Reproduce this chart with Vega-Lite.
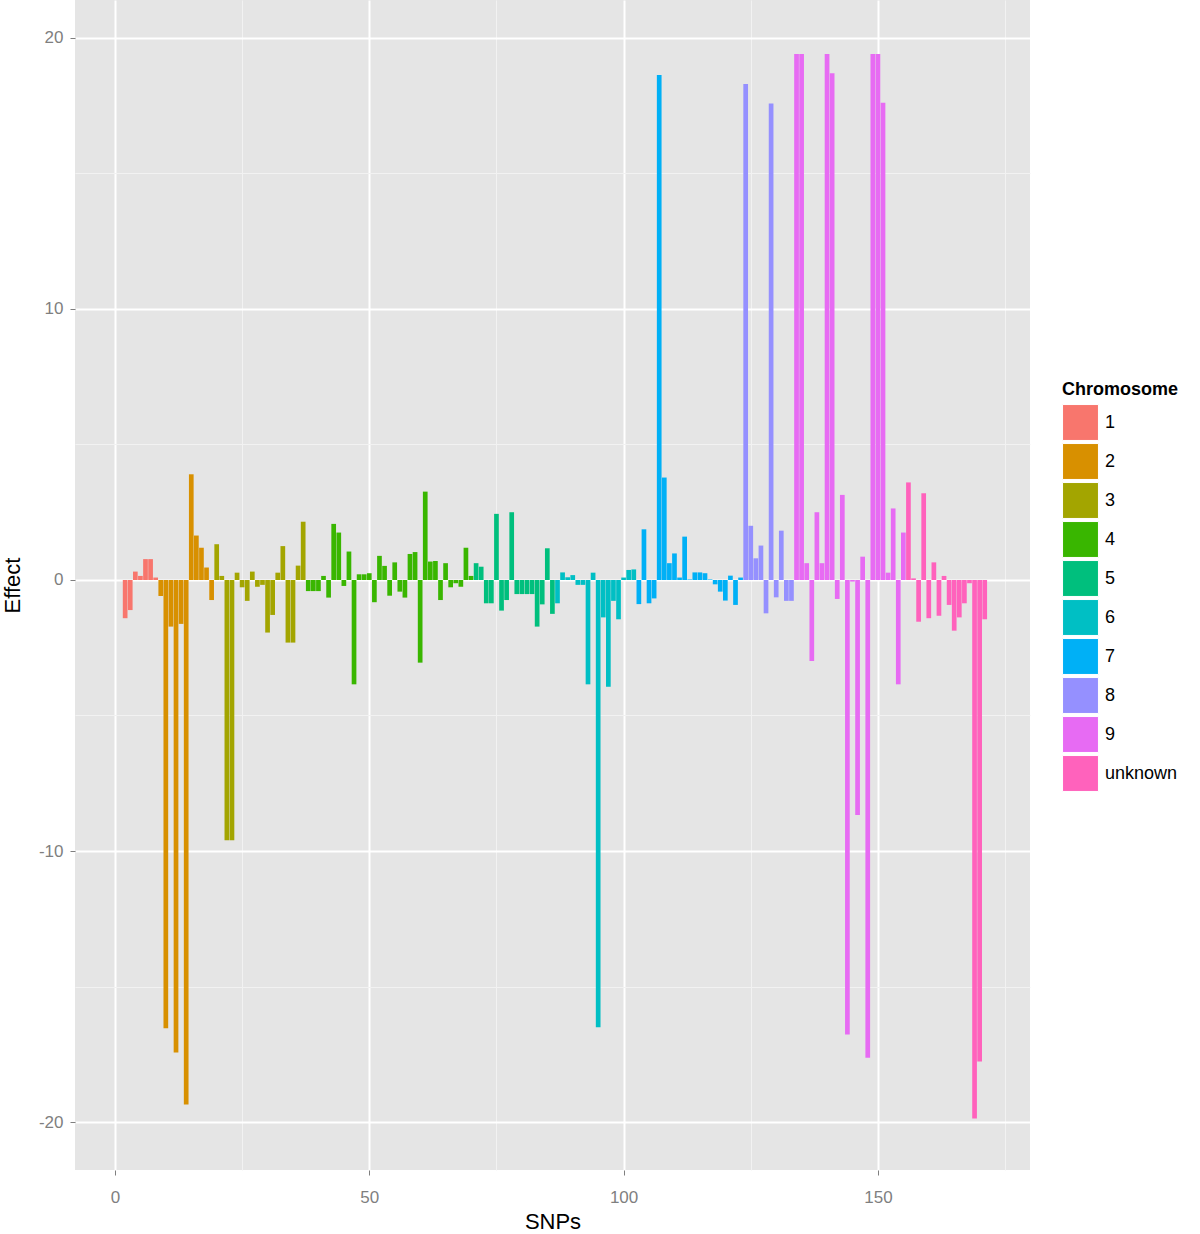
{
  "$schema": "https://vega.github.io/schema/vega-lite/v6.json",
  "autosize": {"type": "none"},
  "padding": {"left": 75, "top": 0, "right": 170, "bottom": 64},
  "width": 955,
  "height": 1170,
  "background": "white",
  "config": {
    "font": "Liberation Sans",
    "view": {"fill": "#E5E5E5", "stroke": null}
  },
  "data": {
    "values": [
      {"SNP": 1, "Effect": 0, "Chromosome": "1"},
      {"SNP": 2, "Effect": -1.41, "Chromosome": "1"},
      {"SNP": 3, "Effect": -1.11, "Chromosome": "1"},
      {"SNP": 4, "Effect": 0.31, "Chromosome": "1"},
      {"SNP": 5, "Effect": 0.15, "Chromosome": "1"},
      {"SNP": 6, "Effect": 0.77, "Chromosome": "1"},
      {"SNP": 7, "Effect": 0.77, "Chromosome": "1"},
      {"SNP": 8, "Effect": 0.09, "Chromosome": "1"},
      {"SNP": 9, "Effect": -0.59, "Chromosome": "2"},
      {"SNP": 10, "Effect": -16.54, "Chromosome": "2"},
      {"SNP": 11, "Effect": -1.72, "Chromosome": "2"},
      {"SNP": 12, "Effect": -17.43, "Chromosome": "2"},
      {"SNP": 13, "Effect": -1.62, "Chromosome": "2"},
      {"SNP": 14, "Effect": -19.35, "Chromosome": "2"},
      {"SNP": 15, "Effect": 3.9, "Chromosome": "2"},
      {"SNP": 16, "Effect": 1.64, "Chromosome": "2"},
      {"SNP": 17, "Effect": 1.19, "Chromosome": "2"},
      {"SNP": 18, "Effect": 0.46, "Chromosome": "2"},
      {"SNP": 19, "Effect": -0.74, "Chromosome": "2"},
      {"SNP": 20, "Effect": 1.32, "Chromosome": "3"},
      {"SNP": 21, "Effect": 0.15, "Chromosome": "3"},
      {"SNP": 22, "Effect": -9.6, "Chromosome": "3"},
      {"SNP": 23, "Effect": -9.6, "Chromosome": "3"},
      {"SNP": 24, "Effect": 0.27, "Chromosome": "3"},
      {"SNP": 25, "Effect": -0.27, "Chromosome": "3"},
      {"SNP": 26, "Effect": -0.77, "Chromosome": "3"},
      {"SNP": 27, "Effect": 0.31, "Chromosome": "3"},
      {"SNP": 28, "Effect": -0.25, "Chromosome": "3"},
      {"SNP": 29, "Effect": -0.18, "Chromosome": "3"},
      {"SNP": 30, "Effect": -1.94, "Chromosome": "3"},
      {"SNP": 31, "Effect": -1.29, "Chromosome": "3"},
      {"SNP": 32, "Effect": 0.27, "Chromosome": "3"},
      {"SNP": 33, "Effect": 1.25, "Chromosome": "3"},
      {"SNP": 34, "Effect": -2.31, "Chromosome": "3"},
      {"SNP": 35, "Effect": -2.31, "Chromosome": "3"},
      {"SNP": 36, "Effect": 0.53, "Chromosome": "3"},
      {"SNP": 37, "Effect": 2.15, "Chromosome": "3"},
      {"SNP": 38, "Effect": -0.41, "Chromosome": "4"},
      {"SNP": 39, "Effect": -0.41, "Chromosome": "4"},
      {"SNP": 40, "Effect": -0.41, "Chromosome": "4"},
      {"SNP": 41, "Effect": 0.15, "Chromosome": "4"},
      {"SNP": 42, "Effect": -0.65, "Chromosome": "4"},
      {"SNP": 43, "Effect": 2.07, "Chromosome": "4"},
      {"SNP": 44, "Effect": 1.75, "Chromosome": "4"},
      {"SNP": 45, "Effect": -0.22, "Chromosome": "4"},
      {"SNP": 46, "Effect": 1.05, "Chromosome": "4"},
      {"SNP": 47, "Effect": -3.85, "Chromosome": "4"},
      {"SNP": 48, "Effect": 0.21, "Chromosome": "4"},
      {"SNP": 49, "Effect": 0.21, "Chromosome": "4"},
      {"SNP": 50, "Effect": 0.25, "Chromosome": "4"},
      {"SNP": 51, "Effect": -0.82, "Chromosome": "4"},
      {"SNP": 52, "Effect": 0.89, "Chromosome": "4"},
      {"SNP": 53, "Effect": 0.52, "Chromosome": "4"},
      {"SNP": 54, "Effect": -0.58, "Chromosome": "4"},
      {"SNP": 55, "Effect": 0.65, "Chromosome": "4"},
      {"SNP": 56, "Effect": -0.43, "Chromosome": "4"},
      {"SNP": 57, "Effect": -0.65, "Chromosome": "4"},
      {"SNP": 58, "Effect": 0.96, "Chromosome": "4"},
      {"SNP": 59, "Effect": 1.03, "Chromosome": "4"},
      {"SNP": 60, "Effect": -3.05, "Chromosome": "4"},
      {"SNP": 61, "Effect": 3.26, "Chromosome": "4"},
      {"SNP": 62, "Effect": 0.68, "Chromosome": "4"},
      {"SNP": 63, "Effect": 0.7, "Chromosome": "4"},
      {"SNP": 64, "Effect": -0.74, "Chromosome": "4"},
      {"SNP": 65, "Effect": 0.62, "Chromosome": "4"},
      {"SNP": 66, "Effect": -0.27, "Chromosome": "4"},
      {"SNP": 67, "Effect": -0.12, "Chromosome": "4"},
      {"SNP": 68, "Effect": -0.25, "Chromosome": "4"},
      {"SNP": 69, "Effect": 1.19, "Chromosome": "4"},
      {"SNP": 70, "Effect": 0.15, "Chromosome": "4"},
      {"SNP": 71, "Effect": 0.62, "Chromosome": "5"},
      {"SNP": 72, "Effect": 0.49, "Chromosome": "5"},
      {"SNP": 73, "Effect": -0.86, "Chromosome": "5"},
      {"SNP": 74, "Effect": -0.86, "Chromosome": "5"},
      {"SNP": 75, "Effect": 2.44, "Chromosome": "5"},
      {"SNP": 76, "Effect": -1.13, "Chromosome": "5"},
      {"SNP": 77, "Effect": -0.74, "Chromosome": "5"},
      {"SNP": 78, "Effect": 2.5, "Chromosome": "5"},
      {"SNP": 79, "Effect": -0.52, "Chromosome": "5"},
      {"SNP": 80, "Effect": -0.52, "Chromosome": "5"},
      {"SNP": 81, "Effect": -0.52, "Chromosome": "5"},
      {"SNP": 82, "Effect": -0.52, "Chromosome": "5"},
      {"SNP": 83, "Effect": -1.72, "Chromosome": "5"},
      {"SNP": 84, "Effect": -0.9, "Chromosome": "5"},
      {"SNP": 85, "Effect": 1.17, "Chromosome": "5"},
      {"SNP": 86, "Effect": -1.25, "Chromosome": "5"},
      {"SNP": 87, "Effect": -0.86, "Chromosome": "6"},
      {"SNP": 88, "Effect": 0.28, "Chromosome": "6"},
      {"SNP": 89, "Effect": 0.1, "Chromosome": "6"},
      {"SNP": 90, "Effect": 0.18, "Chromosome": "6"},
      {"SNP": 91, "Effect": -0.18, "Chromosome": "6"},
      {"SNP": 92, "Effect": -0.18, "Chromosome": "6"},
      {"SNP": 93, "Effect": -3.85, "Chromosome": "6"},
      {"SNP": 94, "Effect": 0.27, "Chromosome": "6"},
      {"SNP": 95, "Effect": -16.5, "Chromosome": "6"},
      {"SNP": 96, "Effect": -1.38, "Chromosome": "6"},
      {"SNP": 97, "Effect": -3.94, "Chromosome": "6"},
      {"SNP": 98, "Effect": -0.77, "Chromosome": "6"},
      {"SNP": 99, "Effect": -1.45, "Chromosome": "6"},
      {"SNP": 100, "Effect": 0.09, "Chromosome": "6"},
      {"SNP": 101, "Effect": 0.37, "Chromosome": "6"},
      {"SNP": 102, "Effect": 0.39, "Chromosome": "6"},
      {"SNP": 103, "Effect": -0.89, "Chromosome": "7"},
      {"SNP": 104, "Effect": 1.87, "Chromosome": "7"},
      {"SNP": 105, "Effect": -0.86, "Chromosome": "7"},
      {"SNP": 106, "Effect": -0.68, "Chromosome": "7"},
      {"SNP": 107, "Effect": 18.63, "Chromosome": "7"},
      {"SNP": 108, "Effect": 3.78, "Chromosome": "7"},
      {"SNP": 109, "Effect": 0.62, "Chromosome": "7"},
      {"SNP": 110, "Effect": 0.98, "Chromosome": "7"},
      {"SNP": 111, "Effect": 0.09, "Chromosome": "7"},
      {"SNP": 112, "Effect": 1.6, "Chromosome": "7"},
      {"SNP": 113, "Effect": 0.02, "Chromosome": "7"},
      {"SNP": 114, "Effect": 0.28, "Chromosome": "7"},
      {"SNP": 115, "Effect": 0.28, "Chromosome": "7"},
      {"SNP": 116, "Effect": 0.25, "Chromosome": "7"},
      {"SNP": 117, "Effect": 0.02, "Chromosome": "7"},
      {"SNP": 118, "Effect": -0.16, "Chromosome": "7"},
      {"SNP": 119, "Effect": -0.43, "Chromosome": "7"},
      {"SNP": 120, "Effect": -0.76, "Chromosome": "7"},
      {"SNP": 121, "Effect": 0.16, "Chromosome": "7"},
      {"SNP": 122, "Effect": -0.92, "Chromosome": "7"},
      {"SNP": 123, "Effect": 0.09, "Chromosome": "7"},
      {"SNP": 124, "Effect": 18.3, "Chromosome": "8"},
      {"SNP": 125, "Effect": 2.0, "Chromosome": "8"},
      {"SNP": 126, "Effect": 0.8, "Chromosome": "8"},
      {"SNP": 127, "Effect": 1.27, "Chromosome": "8"},
      {"SNP": 128, "Effect": -1.23, "Chromosome": "8"},
      {"SNP": 129, "Effect": 17.58, "Chromosome": "8"},
      {"SNP": 130, "Effect": -0.64, "Chromosome": "8"},
      {"SNP": 131, "Effect": 1.82, "Chromosome": "8"},
      {"SNP": 132, "Effect": -0.77, "Chromosome": "8"},
      {"SNP": 133, "Effect": -0.77, "Chromosome": "8"},
      {"SNP": 134, "Effect": 19.41, "Chromosome": "9"},
      {"SNP": 135, "Effect": 19.41, "Chromosome": "9"},
      {"SNP": 136, "Effect": 0.62, "Chromosome": "9"},
      {"SNP": 137, "Effect": -2.99, "Chromosome": "9"},
      {"SNP": 138, "Effect": 2.5, "Chromosome": "9"},
      {"SNP": 139, "Effect": 0.62, "Chromosome": "9"},
      {"SNP": 140, "Effect": 19.41, "Chromosome": "9"},
      {"SNP": 141, "Effect": 18.7, "Chromosome": "9"},
      {"SNP": 142, "Effect": -0.7, "Chromosome": "9"},
      {"SNP": 143, "Effect": 3.14, "Chromosome": "9"},
      {"SNP": 144, "Effect": -16.77, "Chromosome": "9"},
      {"SNP": 145, "Effect": -0.06, "Chromosome": "9"},
      {"SNP": 146, "Effect": -8.67, "Chromosome": "9"},
      {"SNP": 147, "Effect": 0.86, "Chromosome": "9"},
      {"SNP": 148, "Effect": -17.63, "Chromosome": "9"},
      {"SNP": 149, "Effect": 19.41, "Chromosome": "9"},
      {"SNP": 150, "Effect": 19.41, "Chromosome": "9"},
      {"SNP": 151, "Effect": 17.61, "Chromosome": "9"},
      {"SNP": 152, "Effect": 0.27, "Chromosome": "9"},
      {"SNP": 153, "Effect": 2.64, "Chromosome": "9"},
      {"SNP": 154, "Effect": -3.85, "Chromosome": "9"},
      {"SNP": 155, "Effect": 1.75, "Chromosome": "9"},
      {"SNP": 156, "Effect": 3.6, "Chromosome": "unknown"},
      {"SNP": 157, "Effect": 0.06, "Chromosome": "unknown"},
      {"SNP": 158, "Effect": -1.54, "Chromosome": "unknown"},
      {"SNP": 159, "Effect": 3.2, "Chromosome": "unknown"},
      {"SNP": 160, "Effect": -1.41, "Chromosome": "unknown"},
      {"SNP": 161, "Effect": 0.65, "Chromosome": "unknown"},
      {"SNP": 162, "Effect": -1.32, "Chromosome": "unknown"},
      {"SNP": 163, "Effect": 0.15, "Chromosome": "unknown"},
      {"SNP": 164, "Effect": -0.92, "Chromosome": "unknown"},
      {"SNP": 165, "Effect": -1.87, "Chromosome": "unknown"},
      {"SNP": 166, "Effect": -1.38, "Chromosome": "unknown"},
      {"SNP": 167, "Effect": -0.86, "Chromosome": "unknown"},
      {"SNP": 168, "Effect": -0.12, "Chromosome": "unknown"},
      {"SNP": 169, "Effect": -19.87, "Chromosome": "unknown"},
      {"SNP": 170, "Effect": -17.77, "Chromosome": "unknown"},
      {"SNP": 171, "Effect": -1.45, "Chromosome": "unknown"}
    ]
  },
  "mark": {"type": "bar", "width": 4.7, "strokeWidth": 0},
  "encoding": {
    "x": {
      "field": "SNP",
      "type": "quantitative",
      "title": "SNPs",
      "scale": {"domain": [-7.86, 179.9], "nice": false, "zero": false, "padding": 0},
      "axis": {
        "values": [0, 25, 50, 75, 100, 125, 150, 175],
        "labelExpr": "datum.value % 50 === 0 ? '' + datum.value : ''",
        "domain": false,
        "grid": true,
        "gridColor": {"condition": {"test": "datum.value % 50 === 0", "value": "#FFFFFF"}, "value": "#F2F2F2"},
        "gridWidth": {"condition": {"test": "datum.value % 50 === 0", "value": 2}, "value": 1},
        "tickOpacity": {"condition": {"test": "datum.value % 50 === 0", "value": 1}, "value": 0},
        "tickColor": "#7F7F7F",
        "tickSize": 5,
        "labelColor": "#7F7F7F",
        "labelFontSize": 17,
        "labelPadding": 14,
        "labelFont": "Liberation Sans",
        "titleFont": "Liberation Sans",
        "titleFontSize": 22,
        "titleFontWeight": "normal",
        "titleColor": "#000000",
        "titlePadding": 6
      }
    },
    "y": {
      "field": "Effect",
      "type": "quantitative",
      "title": "Effect",
      "scale": {"domain": [-21.77, 21.4], "nice": false, "zero": false},
      "axis": {
        "values": [-20, -15, -10, -5, 0, 5, 10, 15, 20],
        "labelExpr": "datum.value % 10 === 0 ? '' + datum.value : ''",
        "domain": false,
        "grid": true,
        "gridColor": {"condition": {"test": "datum.value % 10 === 0", "value": "#FFFFFF"}, "value": "#F2F2F2"},
        "gridWidth": {"condition": {"test": "datum.value % 10 === 0", "value": 2}, "value": 1},
        "tickOpacity": {"condition": {"test": "datum.value % 10 === 0", "value": 1}, "value": 0},
        "tickColor": "#7F7F7F",
        "tickSize": 5,
        "labelColor": "#7F7F7F",
        "labelFontSize": 17,
        "labelPadding": 7,
        "labelFont": "Liberation Sans",
        "titleFont": "Liberation Sans",
        "titleFontSize": 22,
        "titleFontWeight": "normal",
        "titleColor": "#000000",
        "titlePadding": 14
      }
    },
    "color": {
      "field": "Chromosome",
      "type": "nominal",
      "scale": {
        "domain": ["1", "2", "3", "4", "5", "6", "7", "8", "9", "unknown"],
        "range": ["#F8766D", "#D89000", "#A3A500", "#39B600", "#00BF7D", "#00BFC4", "#00B0F6", "#9590FF", "#E76BF3", "#FF62BC"]
      },
      "legend": {
        "title": "Chromosome",
        "orient": "none",
        "legendX": 987,
        "legendY": 381,
        "titleFont": "Liberation Sans",
        "titleFontSize": 18,
        "titleFontWeight": "bold",
        "titleColor": "#000000",
        "titlePadding": 5,
        "symbolType": "square",
        "symbolSize": 1290,
        "symbolStrokeColor": "#FFFFFF",
        "symbolStrokeWidth": 1,
        "symbolOpacity": 1,
        "rowPadding": -6.5,
        "labelFont": "Liberation Sans",
        "labelFontSize": 18,
        "labelColor": "#000000",
        "labelOffset": 6
      }
    }
  }
}
